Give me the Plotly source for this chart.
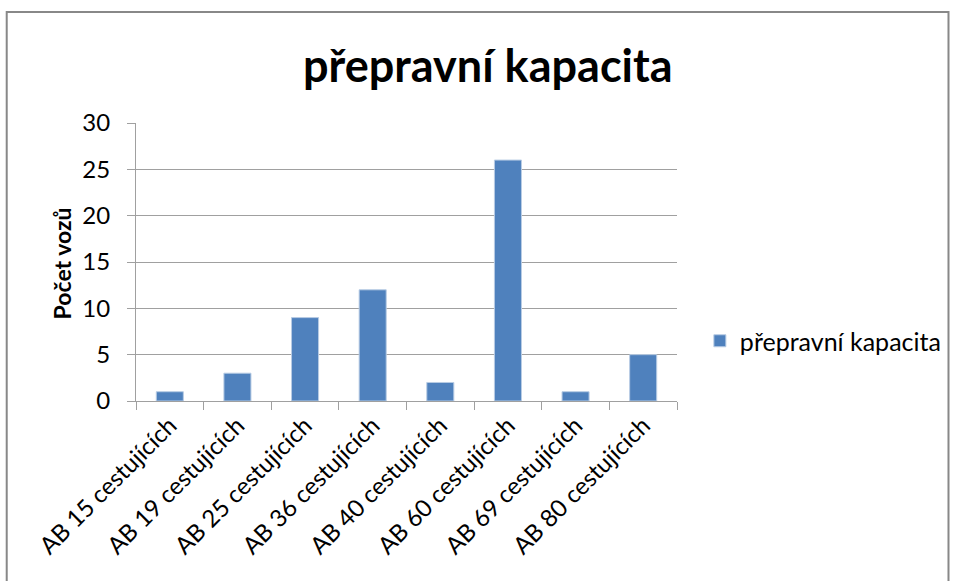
import plotly.graph_objects as go

# Data: number of vehicles per bus capacity class
categories = [
    "AB 15 cestujících",
    "AB 19 cestujících",
    "AB 25 cestujících",
    "AB 36 cestujících",
    "AB 40 cestujících",
    "AB 60 cestujících",
    "AB 69 cestujících",
    "AB 80 cestujících",
]
vehicle_counts = [1, 3, 9, 12, 2, 26, 1, 5]
y_ticks = [0, 5, 10, 15, 20, 25, 30]

series_name = "přepravní kapacita"
chart_title = "přepravní kapacita"
y_title = "Počet vozů"

FONT = "Lato"
BAR_COLOR = "#4F81BD"
GRID = "#a0a0a0"

# plot area in pixels
W, H = 959, 581
L, R, T, B = 136, 680, 123, 401
pw, ph = R - L, B - T


def px_x(x):
    return (x - L) / pw


def px_y(y):
    return (B - y) / ph


fig = go.Figure()
fig.add_trace(go.Bar(
    x=categories,
    y=vehicle_counts,
    name=series_name,
    marker=dict(color=BAR_COLOR, line=dict(color="#b8cce4", width=1)),
    showlegend=True,
))

fig.update_layout(
    width=W, height=H, autosize=False,
    margin=dict(l=L, r=W - R, t=T, b=H - B, pad=0),
    paper_bgcolor="white", plot_bgcolor="white",
    font=dict(family=FONT, color="#000000"),
    bargap=0.6,
    showlegend=True,
    legend=dict(
        x=px_x(703), y=px_y(341), xanchor="left", yanchor="middle",
        font=dict(family=FONT, size=25, color="#000000"),
        bgcolor="rgba(0,0,0,0)", itemwidth=30,
    ),
    xaxis=dict(
        tickangle=-45,
        tickfont=dict(family=FONT, size=24, color="#000000"),
        showgrid=False,
        showline=True, linecolor=GRID, linewidth=1,
        ticks="outside", ticklen=8, tickcolor=GRID,
        tickson="boundaries",
        automargin=False,
    ),
    yaxis=dict(
        range=[0, 30],
        tickvals=y_ticks,
        tickfont=dict(family=FONT, size=24, color="#000000"),
        showgrid=True, gridcolor=GRID, gridwidth=1,
        showline=True, linecolor=GRID, linewidth=1,
        ticks="outside", ticklen=8, tickcolor=GRID,
        ticklabelstandoff=12,
        zeroline=False,
        automargin=False,
    ),
    shapes=[
        # outer chart frame
        dict(type="rect", xref="paper", yref="paper",
             x0=px_x(6), x1=px_x(953), y0=px_y(620), y1=px_y(12),
             line=dict(color="#888888", width=2), fillcolor="rgba(0,0,0,0)",
             layer="below"),
    ],
    annotations=[
        dict(text=chart_title, xref="paper", yref="paper",
             x=px_x(490), y=px_y(65), xanchor="center", yanchor="middle",
             showarrow=False,
             font=dict(family=FONT, size=45, color="#000000", weight="bold")),
        dict(text=y_title, xref="paper", yref="paper",
             x=px_x(62), y=px_y(263), xanchor="center", yanchor="middle",
             textangle=-90, showarrow=False,
             font=dict(family=FONT, size=23, color="#000000", weight="bold")),
    ],
)

fig.write_html("out.html")
